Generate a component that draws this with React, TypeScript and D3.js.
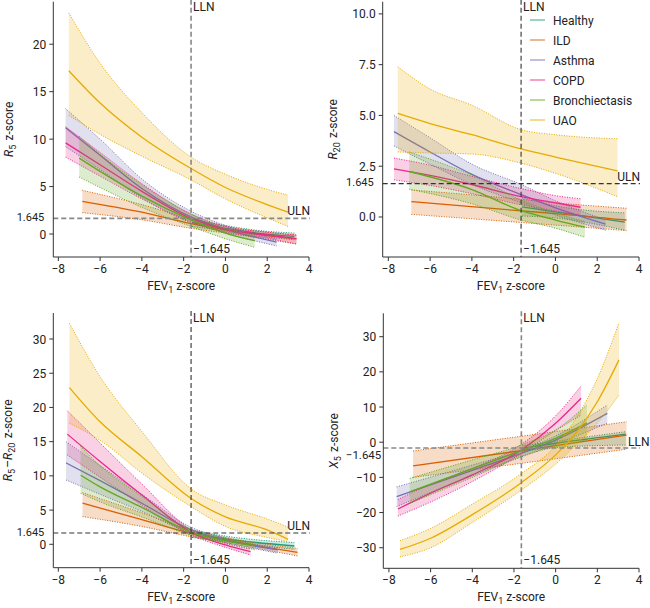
import React from "react";
import * as d3 from "d3";

const GROUPS = ["Healthy", "ILD", "Asthma", "COPD", "Bronchiectasis", "UAO"];
const COLORS = ["#1b9e77", "#d95f02", "#7570b3", "#e7298a", "#66a61e", "#e6ab02"];
const X_TICKS = [-8, -6, -4, -2, 0, 2, 4];

// [FEV1 z, lower, centre, upper]
// ---- R5 ----
const r5Healthy = [[-1.6, 0.8, 1.2, 1.6], [0, 0.3, 0.6, 0.9], [1.5, -0.2, 0.1, 0.4], [3.3, -0.6, -0.25, 0.1]];
const r5ILD = [[-6.85, 2.25, 3.45, 4.6], [-4, 1.5, 2.3, 3.1], [-1.645, 0.6, 1.1, 1.6], [0, 0.1, 0.45, 0.8], [3.4, -1.05, -0.5, -0.1]];
const r5Asthma = [[-7.65, 9.2, 11.2, 13.2], [-6, 6.8, 8.3, 10.0], [-4, 3.8, 4.8, 5.8], [-1.645, 1.3, 1.8, 2.4], [0, 0.1, 0.5, 0.9], [2.45, -1.25, -0.85, -0.5]];
const r5COPD = [[-7.65, 8.1, 9.6, 11.3], [-6, 6.1, 7.3, 8.6], [-4, 3.7, 4.5, 5.3], [-1.645, 1.2, 1.65, 2.1], [0, 0.2, 0.5, 0.8], [2, -0.45, -0.1, 0.2], [3.4, -1.05, -0.5, -0.1]];
const r5Bronch = [[-7.0, 6.0, 8.0, 10.3], [-6, 4.9, 6.6, 8.4], [-4, 2.8, 4.0, 5.2], [-1.645, 0.8, 1.5, 2.1], [0, -0.5, 0.1, 0.6], [1.4, -1.4, -0.7, -0.1]];
const r5UAO = [[-7.5, 12.5, 17.2, 23.3], [-6, 10.5, 13.8, 18.0], [-4, 8.2, 10.2, 12.8], [-1.645, 5.7, 6.9, 8.1], [0, 3.7, 4.9, 6.3], [2, 1.7, 3.1, 4.7], [3, 0.8, 2.3, 4.1]];

// ---- R20 ----
const r20Healthy = [[-1.6, 0.05, 0.5, 0.95], [0, -0.05, 0.25, 0.55], [3.32, -0.65, -0.25, 0.2]];
const r20ILD = [[-6.9, 0.13, 0.76, 1.33], [-1.645, -0.27, 0.3, 0.87], [0, -0.4, 0.17, 0.7], [3.4, -0.67, -0.15, 0.43]];
const r20Asthma = [[-7.73, 3.5, 4.2, 5.0], [-6, 2.6, 3.2, 3.9], [-4, 1.6, 2.1, 2.6], [-1.645, 0.7, 1.1, 1.6], [0, 0.1, 0.45, 0.8], [2.4, -0.65, -0.35, -0.15]];
const r20COPD = [[-7.73, 1.83, 2.37, 2.9], [-6, 1.55, 2.05, 2.55], [-4, 1.15, 1.6, 2.0], [-1.645, 0.6, 1.0, 1.4], [0, 0.3, 0.7, 1.05], [1.2, 0.07, 0.48, 0.9]];
const r20Bronch = [[-7.0, 1.37, 2.24, 3.2], [-4, 0.65, 1.35, 2.05], [-1.645, -0.15, 0.31, 0.84], [0, -0.55, -0.15, 0.2], [1.41, -1.0, -0.5, -0.23]];
const r20UAO = [[-7.55, 3.2, 5.1, 7.4], [-6, 3.15, 4.6, 6.3], [-4, 3.1, 4.05, 5.5], [-1.645, 2.65, 3.35, 4.3], [0, 2.15, 2.95, 4.05], [2.97, 1.0, 2.27, 3.85]];

// ---- R5-R20 ----
const rdHealthy = [[-1.6, 1.0, 1.6, 2.1], [0, 0.4, 0.8, 1.2], [3.3, -0.75, -0.25, 0.25]];
const rdILD = [[-6.84, 4.05, 6.0, 7.55], [-4, 2.6, 3.6, 4.6], [-1.645, 1.1, 1.6, 2.1], [0, 0.25, 0.63, 1.0], [3.45, -1.7, -1.17, -0.6]];
const rdAsthma = [[-7.63, 9.4, 11.9, 15.0], [-6, 7.3, 9.3, 11.5], [-4, 4.8, 6.0, 7.3], [-1.645, 1.6, 2.1, 2.5], [0, 0.3, 0.6, 0.9], [2.5, -1.3, -0.8, -0.45]];
const rdCOPD = [[-7.57, 13.05, 16.1, 19.5], [-6, 9.8, 12.1, 14.8], [-4, 5.7, 7.2, 8.8], [-1.645, 1.35, 1.75, 2.1], [0, -0.45, -0.1, 0.2], [1.2, -1.55, -1.07, -0.7]];
const rdBronch = [[-6.93, 7.45, 10.1, 14.3], [-6, 6.2, 8.4, 11.5], [-4, 4.0, 5.4, 7.0], [-1.645, 1.3, 1.75, 2.2], [0, 0.1, 0.5, 0.9], [1.4, -0.8, -0.2, 0.2]];
const rdUAO = [[-7.47, 17.7, 22.9, 32.3], [-6, 15.2, 17.9, 24.5], [-4, 10.4, 12.8, 16.5], [-1.645, 5.5, 6.7, 8.1], [0, 2.6, 4.0, 5.75], [2, 1.0, 2.1, 3.7], [3, 0.4, 0.73, 2.5]];

// ---- X5 ----
const x5Healthy = [[-1.6, -2.7, -1.75, -1.0], [0, -1.5, -0.3, 0.3], [3.37, -0.8, 2.3, 3.0]];
const x5ILD = [[-6.84, -10.0, -6.7, -2.5], [-1.645, -6.0, -2.4, 1.7], [3.4, -2.0, 2.0, 5.8]];
const x5Asthma = [[-7.63, -18.3, -15.5, -12.7], [-4, -9.5, -8.0, -6.5], [-1.645, -4.2, -3.2, -2.3], [0, -0.6, 0.6, 1.8], [2.48, 5.4, 8.2, 10.6]];
const x5COPD = [[-7.57, -21.0, -19.0, -16.3], [-6, -17.0, -14.5, -12.0], [-4, -11.2, -9.3, -7.5], [-1.645, -3.2, -2.2, -0.6], [0, 3.3, 5.4, 7.5], [1.22, 7.7, 12.5, 16.0]];
const x5Bronch = [[-7.0, -17.4, -14.1, -10.3], [-4, -10.0, -7.5, -5.0], [-1.645, -4.0, -2.4, -0.8], [0, -1.3, 1.1, 3.5], [1.5, 0.6, 5.5, 10.6]];
const x5UAO = [[-7.47, -32.6, -30.5, -28.0], [-6, -30.0, -27.3, -24.5], [-4, -22.8, -20.6, -17.6], [-1.645, -13.6, -11.5, -8.9], [0, -6.2, -3.6, -1.0], [1, -0.6, 2.8, 7.0], [2, 5.4, 11.5, 18.1], [3.04, 13.4, 23.4, 34.0]];

const r5Ticks = [0, 5, 10, 15, 20];
const r20Ticks = [0, 2.5, 5, 7.5, 10];
const rdTicks = [0, 5, 10, 15, 20, 25, 30];
const x5Ticks = [-30, -20, -10, 0, 10, 20, 30];

const FONT = "Roboto, 'Noto Sans', sans-serif";
const TXT = "#222";
const AX = "#333";

type Pt = number[];

const panels = [
  {
    series: [r5Healthy, r5ILD, r5Asthma, r5COPD, r5Bronch, r5UAO],
    x0: 53.3, x1: 309, xDom: [-8.24, 4], yTop: 1.7, yBot: 257, yDom: [-2.42, 24.48],
    ticks: r5Ticks, fmt: (v: number) => String(v), refY: 1.645, refLbl: "ULN",
    refStyle: { stroke: "#888", width: 1.6 }, label: "r5", ylx: 13, legend: false,
  },
  {
    series: [r20Healthy, r20ILD, r20Asthma, r20COPD, r20Bronch, r20UAO],
    x0: 382.7, x1: 639, xDom: [-8.27, 4], yTop: 1.7, yBot: 257, yDom: [-1.97, 10.6],
    ticks: r20Ticks, fmt: (v: number) => v.toFixed(1), refY: 1.645, refLbl: "ULN",
    refStyle: { stroke: "#333", width: 1.1 }, label: "r20", ylx: 337, legend: true,
  },
  {
    series: [rdHealthy, rdILD, rdAsthma, rdCOPD, rdBronch, rdUAO],
    x0: 53.3, x1: 309, xDom: [-8.24, 4], yTop: 313, yBot: 567.7, yDom: [-3.42, 33.8],
    ticks: rdTicks, fmt: (v: number) => String(v), refY: 1.645, refLbl: "ULN",
    refStyle: { stroke: "#333", width: 1.1 }, label: "rd", ylx: 12, legend: false,
  },
  {
    series: [x5Healthy, x5ILD, x5Asthma, x5COPD, x5Bronch, x5UAO],
    x0: 383.3, x1: 639, xDom: [-8.27, 4], yTop: 313.3, yBot: 568.3, yDom: [-35.85, 36.65],
    ticks: x5Ticks, fmt: (v: number) => (v < 0 ? "\u2212" + Math.abs(v) : String(v)), refY: -1.645, refLbl: "LLN",
    refStyle: { stroke: "#888", width: 1.6 }, label: "x5", ylx: 338, legend: false,
  },
];

function YLabel({ kind }: { kind: string }) {
  const sub = (s: string) => (
    <>
      <tspan dy={3} fontSize={9}>{s}</tspan>
      <tspan dy={-3}>{"\u200a"}</tspan>
    </>
  );
  if (kind === "r5")
    return (<><tspan fontStyle="italic">R</tspan>{sub("5")}<tspan> z-score</tspan></>);
  if (kind === "r20")
    return (<><tspan fontStyle="italic">R</tspan>{sub("20")}<tspan> z-score</tspan></>);
  if (kind === "rd")
    return (<><tspan fontStyle="italic">R</tspan>{sub("5")}<tspan>{"\u2013"}</tspan><tspan fontStyle="italic">R</tspan>{sub("20")}<tspan> z-score</tspan></>);
  return (<><tspan fontStyle="italic">X</tspan>{sub("5")}<tspan> z-score</tspan></>);
}

function Panel({ p }: { p: any }) {
  const xs = d3.scaleLinear().domain(p.xDom).range([p.x0, p.x1]);
  const ys = d3.scaleLinear().domain(p.yDom).range([p.yBot, p.yTop]);
  const curve = d3.curveMonotoneX;
  const area = d3.area<Pt>().x((d) => xs(d[0])).y0((d) => ys(d[1])).y1((d) => ys(d[3])).curve(curve);
  const lo = d3.line<Pt>().x((d) => xs(d[0])).y((d) => ys(d[1])).curve(curve);
  const mid = d3.line<Pt>().x((d) => xs(d[0])).y((d) => ys(d[2])).curve(curve);
  const hi = d3.line<Pt>().x((d) => xs(d[0])).y((d) => ys(d[3])).curve(curve);
  const xl = xs(-1.645);
  const yr = ys(p.refY);
  const cx = (p.x0 + p.x1) / 2;
  const cy = (p.yTop + p.yBot) / 2;
  const isX5 = p.label === "x5";
  return (
    <g fontFamily={FONT} fontSize={12} fill={TXT}>
      {p.series.map((s: Pt[], i: number) => (
        <g key={i}>
          <path d={area(s) || ""} fill={COLORS[i]} fillOpacity={0.22} stroke="none" />
          <path d={lo(s) || ""} fill="none" stroke={COLORS[i]} strokeWidth={1} strokeDasharray="1,1.5" />
          <path d={hi(s) || ""} fill="none" stroke={COLORS[i]} strokeWidth={1} strokeDasharray="1,1.5" />
          <path d={mid(s) || ""} fill="none" stroke={COLORS[i]} strokeWidth={1.3} />
        </g>
      ))}
      {/* reference lines */}
      <line x1={xl} x2={xl} y1={p.yTop - 2} y2={p.yBot} stroke={p.refStyle.stroke} strokeWidth={p.refStyle.width} strokeDasharray="5,3" />
      <line x1={p.x0} x2={p.x1 + 1} y1={yr} y2={yr} stroke={p.refStyle.stroke} strokeWidth={p.refStyle.width} strokeDasharray="5,3" />
      <text x={xl + 2} y={p.yTop + 9}>LLN</text>
      <text x={xl + 2} y={p.yBot - 4}>{"\u22121.645"}</text>
      {isX5 ? (
        <>
          <text x={p.x1 - 11} y={yr - 2}>{p.refLbl}</text>
          <text x={p.x0 - 2} y={yr + 11.5} textAnchor="end" fontSize={11.5}>{"\u22121.645"}</text>
        </>
      ) : (
        <>
          <text x={p.x1 + 1} y={yr - 3} textAnchor="end">{p.refLbl}</text>
          <text x={p.x0 - 9} y={yr + 2.5} textAnchor="end" fontSize={11}>1.645</text>
        </>
      )}
      {/* axes */}
      <line x1={p.x0} x2={p.x0} y1={p.yTop} y2={p.yBot} stroke={AX} strokeWidth={1} />
      <line x1={p.x0} x2={p.x1} y1={p.yBot} y2={p.yBot} stroke={AX} strokeWidth={1} />
      {p.ticks.map((t: number) => (
        <g key={"y" + t}>
          <line x1={p.x0 - 4} x2={p.x0} y1={ys(t)} y2={ys(t)} stroke={AX} />
          <text x={p.x0 - 7} y={ys(t) + 4.5} textAnchor="end">{p.fmt(t)}</text>
        </g>
      ))}
      {X_TICKS.map((t) => (
        <g key={"x" + t}>
          <line x1={xs(t)} x2={xs(t)} y1={p.yBot} y2={p.yBot + 4} stroke={AX} />
          <text x={xs(t)} y={p.yBot + 16} textAnchor="middle">{t < 0 ? "\u2212" + Math.abs(t) : String(t)}</text>
        </g>
      ))}
      <text x={cx} y={p.yBot + 33} textAnchor="middle">
        <tspan>FEV</tspan><tspan dy={3} fontSize={9}>1</tspan><tspan dy={-3}> z-score</tspan>
      </text>
      <text transform={`translate(${p.ylx},${cy}) rotate(-90)`} textAnchor="middle">
        <YLabel kind={p.label} />
      </text>
      {p.legend && GROUPS.map((g, i) => (
        <g key={g}>
          <line x1={530} x2={545} y1={20 + i * 20} y2={20 + i * 20} stroke={COLORS[i]} strokeOpacity={0.6} strokeWidth={1.5} />
          <text x={553} y={24.5 + i * 20}>{g}</text>
        </g>
      ))}
    </g>
  );
}

export default function App() {
  return (
    <svg width={650} height={608} style={{ position: "absolute", left: 0, top: 0, background: "#fff" }}>
      <rect width={650} height={608} fill="#fff" />
      {panels.map((p, i) => (
        <Panel key={i} p={p} />
      ))}
    </svg>
  );
}
